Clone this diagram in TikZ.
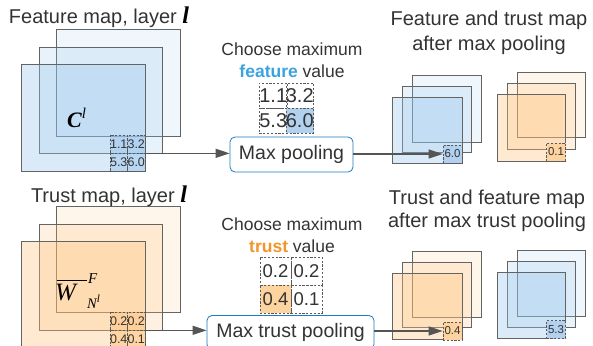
\documentclass[tikz,border=0pt]{standalone}
\usepackage{amsmath}
\usepackage{fontspec}
\setmainfont{Liberation Sans}
\newfontfamily\tms{Liberation Serif}
\usetikzlibrary{arrows.meta}
\definecolor{bluebase}{RGB}{150,195,235}
\definecolor{orangebase}{RGB}{255,192,120}
\definecolor{sqline}{RGB}{100,100,100}
\definecolor{dashgray}{RGB}{90,90,90}
\definecolor{textgray}{RGB}{51,51,51}
\definecolor{featblue}{RGB}{59,163,224}
\definecolor{trustorange}{RGB}{240,150,42}
\definecolor{boxblue}{RGB}{31,123,191}
\definecolor{hiblue}{RGB}{178,209,238}
\definecolor{hiorange}{RGB}{253,212,160}
\definecolor{arrgray}{RGB}{85,85,85}
\newcommand{\fs}[1]{\fontsize{#1}{#1}\selectfont}
\tikzset{
  sq/.style={draw=sqline, line width=0.8pt},
  bsq/.style={sq, fill=bluebase},
  osq/.style={sq, fill=orangebase},
  cellbox/.style={draw=dashgray, dash pattern=on 2.2pt off 1.6pt, line width=0.7pt,
    inner sep=0pt, text=textgray},
  smcell/.style={cellbox, minimum width=17.5pt, minimum height=18pt, font=\fs{12.5}},
  midcellA/.style={cellbox, minimum width=26.5pt, minimum height=25pt, font=\fs{20}},
  midcellB/.style={cellbox, minimum width=31pt, minimum height=28pt, font=\fs{18.5}},
  rcell/.style={cellbox, minimum width=19pt, minimum height=18pt, font=\fs{11.5}},
  titletxt/.style={font=\fontsize{20}{25}\selectfont, text=textgray, align=center, inner sep=0pt},
  choosetxt/.style={font=\fontsize{17.5}{22}\selectfont, text=textgray, align=center, inner sep=0pt},
  poolbox/.style={draw=boxblue, line width=0.8pt, rounded corners=5pt, fill=white,
    font=\fontsize{19.5}{22}\selectfont, text=textgray, inner sep=0pt},
  arr/.style={draw=arrgray, line width=1.3pt, -{Triangle[length=14pt,width=9pt]}},
  mathtxt/.style={inner sep=0pt, text=black},
}
\begin{document}
\begin{tikzpicture}[x=1pt,y=-1pt]
\useasboundingbox (0,0) rectangle (593,345);
% ---------- top-left feature map stack
\path[bsq, fill opacity=0.15] (56,29) rectangle (180,136);
\path[bsq, fill opacity=0.22] (39,47) rectangle (162,153);
\path[bsq, fill opacity=0.35] (21,64) rectangle (145,171);
\node[titletxt] (t1) at (99,17) {Feature map, layer {\color{black}\fs{24}\tms\bfseries\itshape l}};
\node[mathtxt, anchor=base west] (cl) at (67,127) {\fs{22}\tms\bfseries\itshape C\raisebox{9pt}{\fs{15}\mdseries l}};
\node[smcell, fill=bluebase, fill opacity=0.5, text opacity=1] (a11) at (118.75,144) {1.1};
\node[smcell, fill=bluebase, fill opacity=0.5, text opacity=1] (a12) at (136.25,144) {3.2};
\node[smcell, fill=bluebase, fill opacity=0.5, text opacity=1] (a21) at (118.75,162) {5.3};
\node[smcell, fill=bluebase, fill opacity=0.5, text opacity=1] (a22) at (136.25,162) {6.0};
% ---------- bottom-left trust map stack
\path[osq, fill opacity=0.15] (56,206) rectangle (180,312);
\path[osq, fill opacity=0.22] (39,224) rectangle (162,330);
\path[osq, fill opacity=0.35] (21,241) rectangle (145,348);
\node[titletxt] (t2) at (109,196) {Trust map, layer {\color{black}\fs{24}\tms\bfseries\itshape l}};
\node[mathtxt, anchor=base west] (wb) at (55,300) {\fs{25}\tms\itshape W};
\draw[line width=1.5pt, black] (wb.north west) ++(2,-3) -- ++(30,0);
\node[mathtxt, anchor=base west] (wf) at (88,283) {\fs{15}\tms\itshape F};
\node[mathtxt, anchor=base west] (wn) at (87,308) {\fs{14.5}\tms\itshape N\raisebox{6pt}{\fs{11}l}};
\node[smcell, fill=orangebase, fill opacity=0.5, text opacity=1] (b11) at (118.75,321) {0.2};
\node[smcell, fill=orangebase, fill opacity=0.5, text opacity=1] (b12) at (136.25,321) {0.2};
\node[smcell, fill=orangebase, fill opacity=0.5, text opacity=1] (b21) at (118.75,339) {0.4};
\node[smcell, fill=orangebase, fill opacity=0.5, text opacity=1] (b22) at (136.25,339) {0.1};
% ---------- middle top
\node[choosetxt] (ch1) at (292,49) {Choose maximum};
\node[choosetxt] (fv) at (292,71) {{\color{featblue}\bfseries feature} value};
\node[midcellA] (m11) at (273.25,95.5) {1.1};
\node[midcellA] (m12) at (299.75,95.5) {3.2};
\node[midcellA] (m21) at (273.25,120.5) {5.3};
\node[midcellA, fill=hiblue] (m22) at (299.75,120.5) {6.0};
\node[poolbox, minimum width=123pt, minimum height=35pt] (pool) at (291.5,154.5) {Max pooling};
% ---------- middle bottom
\node[choosetxt] (ch2) at (292,224) {Choose maximum};
\node[choosetxt] (tv) at (292,246) {{\color{trustorange}\bfseries trust} value};
\node[midcellB] (n11) at (275.5,271) {0.2};
\node[midcellB] (n12) at (306.5,271) {0.2};
\node[midcellB, fill=hiorange] (n21) at (275.5,299) {0.4};
\node[midcellB] (n22) at (306.5,299) {0.1};
\node[poolbox, minimum width=167pt, minimum height=34pt] (tp) at (290.5,332.5) {Max trust pooling};
% ---------- right top
\node[titletxt] (t3) at (489,20) {Feature and trust map};
\node[titletxt] (t4) at (489,45) {after max pooling};
\path[bsq, fill opacity=0.15] (412,75) rectangle (481,142);
\path[bsq, fill opacity=0.22] (402,86) rectangle (471,152);
\path[bsq, fill opacity=0.35] (392,97) rectangle (462,163);
\node[rcell, fill=hiblue] (r60) at (452.5,154) {6.0};
\path[osq, fill opacity=0.15] (517,72) rectangle (585,137);
\path[osq, fill opacity=0.22] (507,83) rectangle (575,149);
\path[osq, fill opacity=0.35] (497,94) rectangle (565,161);
\node[rcell, fill=hiorange] (r01) at (556,152) {0.1};
% ---------- right bottom
\node[titletxt] (t5) at (487,199) {Trust and feature map};
\node[titletxt] (t6) at (487,222) {after max trust pooling};
\path[osq, fill opacity=0.15] (412,251) rectangle (481,317);
\path[osq, fill opacity=0.22] (402,262) rectangle (471,327);
\path[osq, fill opacity=0.35] (392,273) rectangle (462,339);
\node[rcell, fill=hiorange] (r04) at (452.5,331) {0.4};
\path[bsq, fill opacity=0.15] (517,250) rectangle (585,316);
\path[bsq, fill opacity=0.22] (507,261) rectangle (575,327);
\path[bsq, fill opacity=0.35] (497,272) rectangle (565,338);
\node[rcell, fill=hiblue] (r53) at (556,329.5) {5.3};
% ---------- connectors
\draw[arr] (a12.south east) -- (a12.south east -| pool.west);
\draw[arr] (pool.east |- r60.west) -- (r60.west);
\draw[arr] (b12.south east) -- (b12.south east -| tp.west);
\draw[arr] (tp.east |- r04.west) -- (r04.west);
\end{tikzpicture}
\end{document}
